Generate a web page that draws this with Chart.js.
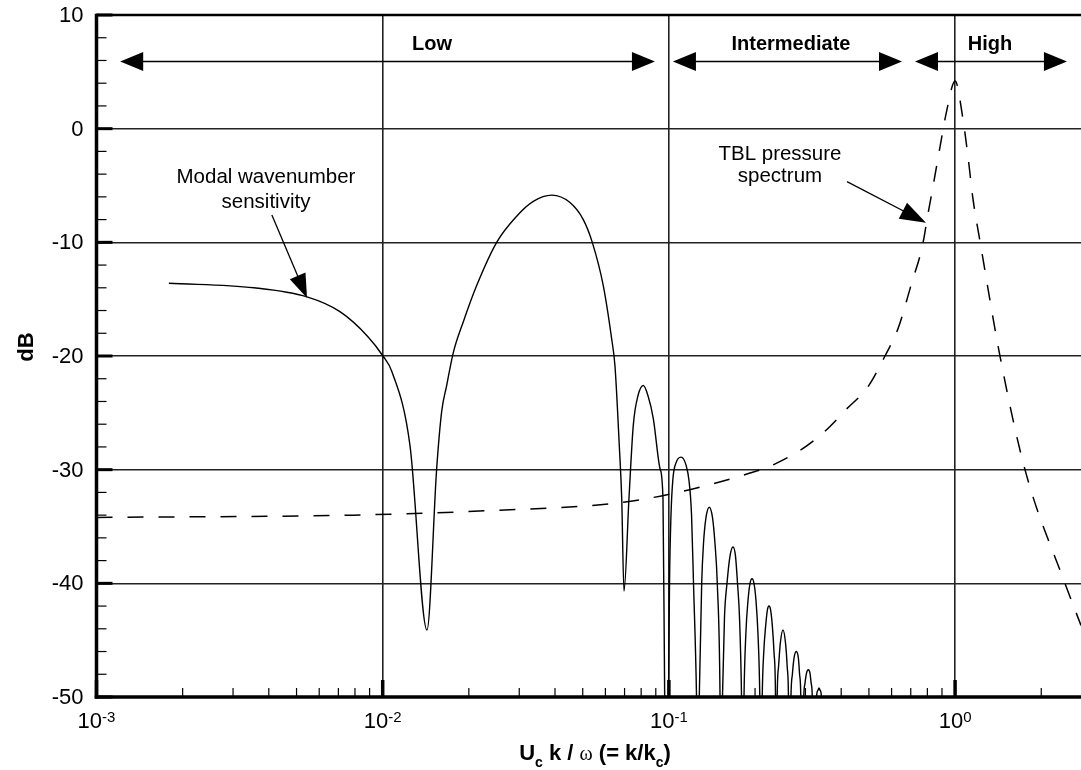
<!DOCTYPE html>
<html><head><meta charset="utf-8">
<script src="https://cdn.jsdelivr.net/npm/chart.js@4/dist/chart.umd.min.js"></script>
<style>html,body{margin:0;padding:0;background:#fff;}#wrap{width:1081px;height:770px;}</style>
</head><body><div id="wrap"><canvas id="c" width="1081" height="770"></canvas></div>
<script>
// ---- data ----
const modalK = [0.00179,0.00355,0.00544,0.00709,0.00888,0.01002,0.01078,0.01246,0.01428,0.01544,0.01607,0.01673,0.01765,0.01912,0.02130,0.02502,0.02939,0.03359,0.03895,0.04512,0.05022,0.05399,0.05898,0.06311,0.06482,0.06710,0.06841,0.06968,0.07254,0.07509,0.07798,0.08139,0.08453,0.08822,0.09309,0.09537,0.09667,0.09808,
 0.09968,0.1005,0.1017,0.1033,0.1059,0.1102,0.1148,0.1176,0.1200,0.1219,0.1249,0.1264,
 0.1277,0.1302,0.1321,0.1348,0.1384,0.1420,0.1449,0.1476,0.1509,0.1518,
 0.1539,0.1564,0.1596,0.1635,0.1675,0.1709,0.1737,0.1765,0.1794,0.1812,
 0.1830,0.1857,0.1890,0.1921,0.1952,0.1983,0.2015,0.2048,0.2078,0.2098,
 0.2119,0.2146,0.2181,0.2211,0.2238,0.2265,0.2296,0.2329,0.2358,0.2373,
 0.2390,0.2417,0.2450,0.2504,0.2557,0.2590,0.2617,0.2638,
 0.2670,0.2701,0.2736,0.2787,0.2835,0.2862,0.2890,0.2913,
 0.2960,0.2989,0.3026,0.3070,0.3112,0.3142,0.3170,0.3200,
 0.3279,0.3319,0.3346,0.3373,0.3414,0.3455];
const modalDb = [-13.6,-14.0,-14.8,-16.1,-18.3,-20.0,-21.4,-27.9,-44.1,-29.9,-24.9,-22.6,-19.7,-17.0,-13.8,-10.0,-7.7,-6.4,-5.85,-6.5,-8.0,-10.0,-13.8,-18.5,-20.9,-27.9,-32.5,-40.7,-32.5,-26.1,-23.5,-22.6,-23.5,-25.5,-29.9,-32.6,-50,-60,
 -50,-40,-34,-30.8,-29.4,-28.9,-29.6,-31,-34,-40,-50,-60,
 -50,-40,-36.5,-34.2,-33.3,-34.2,-36.5,-40,-50,-60,
 -50,-43,-40,-37.6,-36.8,-37.6,-40,-43,-50,-60,
 -50,-44.5,-41.5,-40,-39.6,-40,-41.5,-44.5,-50,-60,
 -50,-46,-43.6,-42.3,-42,-42.3,-43.6,-46,-50,-60,
 -50,-47.3,-45.3,-44.1,-45.3,-47.3,-50,-60,
 -50,-48,-46.6,-46,-46.6,-48,-50,-60,
 -50,-48.8,-47.9,-47.6,-47.9,-48.8,-50,-60,
 -50,-49.4,-49.2,-49.4,-50,-60];
const tblK = [0.001,0.00787,0.0237,0.0675,0.112,0.192,0.2255,0.2872,0.3373,0.3655,0.4124,0.4964,0.569,0.6316,0.7126,0.7539,0.7786,0.7977,0.8371,0.8859,0.937,1.0,1.066,1.110,1.155,1.222,1.435,1.755,2.421,2.754];
const tblDb = [-34.2,-34.0,-33.6,-32.9,-31.9,-30.3,-29.7,-28.3,-27.0,-26.2,-24.8,-22.7,-20.0,-17.6,-13.2,-11.2,-9.6,-8.0,-5.1,-1.6,1.7,4.2,0.8,-2.5,-6.2,-9.9,-20.0,-30.0,-40.0,-43.7];
const yTicks = [-50,-40,-30,-20,-10,0,10];
const yTickLabels = ['-50','-40','-30','-20','-10','0','10'];
const xDecades = [0.001,0.01,0.1,1];
const xDecadeExp = ['-3','-2','-1','0'];
const regionNames = ['Low','Intermediate','High'];
const regionFrom = [0.00121,0.1033,0.7244];
const regionTo = [0.0894,0.6524,2.460];
const regionLabelAt = [0.01487,0.2670,1.324];

// ---- drawing ----
const FONT = '"Liberation Sans", Arial, Helvetica, sans-serif';
const X_MIN = 0.001, X_MAX = 2.754;

function arrowHead(ctx, x0, y0, x1, y1, len, hw) {
  const dx = x1 - x0, dy = y1 - y0, L = Math.hypot(dx, dy);
  const ux = dx / L, uy = dy / L;
  const bx = x1 - ux * len, by = y1 - uy * len;
  ctx.beginPath();
  ctx.moveTo(x1, y1);
  ctx.lineTo(bx - uy * hw, by + ux * hw);
  ctx.lineTo(bx + uy * hw, by - ux * hw);
  ctx.closePath();
  ctx.fill();
}
function line(ctx, x0, y0, x1, y1, w) {
  ctx.lineWidth = w;
  ctx.beginPath(); ctx.moveTo(x0, y0); ctx.lineTo(x1, y1); ctx.stroke();
}

const decor = {
  id: 'decor',
  afterDatasetsDraw(chart) {
    const { ctx, chartArea: a, scales: { x, y } } = chart;
    ctx.save();
    ctx.strokeStyle = '#000'; ctx.fillStyle = '#000'; ctx.lineCap = 'butt';
    // axes frame
    line(ctx, a.left, a.top, a.right, a.top, 2.5);
    line(ctx, a.left, a.top - 1.2, a.left, a.bottom + 1.8, 3.5);
    line(ctx, a.left - 1.8, a.bottom, a.right, a.bottom, 3.5);
    // y ticks
    for (let v = -50; v <= 10; v += 2) {
      const py = y.getPixelForValue(v);
      const major = v % 10 === 0;
      line(ctx, a.left, py, a.left + (major ? 16 : 10), py, major ? 3 : 1.2);
    }
    // y tick labels
    ctx.font = '22px ' + FONT; ctx.textAlign = 'right'; ctx.textBaseline = 'middle';
    yTicks.forEach((v, i) => ctx.fillText(yTickLabels[i], a.left - 13, y.getPixelForValue(v) + 1));
    // x ticks
    xDecades.forEach(d => {
      for (let m = 1; m <= 9; m++) {
        const v = d * m;
        if (v > X_MAX) break;
        const px = x.getPixelForValue(v);
        line(ctx, px, a.bottom, px, a.bottom - (m === 1 ? 17 : 9), m === 1 ? 3.5 : 1.2);
      }
    });
    // x tick labels with exponents
    ctx.textBaseline = 'alphabetic'; ctx.textAlign = 'left';
    xDecades.forEach((d, i) => {
      const px = x.getPixelForValue(d);
      ctx.font = '22px ' + FONT; const w1 = ctx.measureText('10').width;
      ctx.font = '15px ' + FONT; const w2 = ctx.measureText(xDecadeExp[i]).width;
      const sx = px - (w1 + w2) / 2;
      ctx.font = '22px ' + FONT; ctx.fillText('10', sx, 728);
      ctx.font = '15px ' + FONT; ctx.fillText(xDecadeExp[i], sx + w1, 722);
    });
    // x title
    const parts = [
      { t: 'U', f: 'bold 22px ' + FONT, dy: 0 },
      { t: 'c', f: 'bold 14px ' + FONT, dy: 7 },
      { t: ' k / ', f: 'bold 22px ' + FONT, dy: 0 },
      { t: 'ω', f: '20px "Liberation Serif", "DejaVu Serif", serif', dy: 0 },
      { t: ' (= k/k', f: 'bold 22px ' + FONT, dy: 0 },
      { t: 'c', f: 'bold 14px ' + FONT, dy: 7 },
      { t: ')', f: 'bold 22px ' + FONT, dy: 0 }
    ];
    let tot = 0;
    parts.forEach(p => { ctx.font = p.f; p.w = ctx.measureText(p.t).width; tot += p.w; });
    let cx = 595 - tot / 2;
    parts.forEach(p => { ctx.font = p.f; ctx.fillText(p.t, cx, 760 + p.dy); cx += p.w; });
    // y title
    ctx.save();
    ctx.translate(27, 347); ctx.rotate(-Math.PI / 2);
    ctx.font = 'bold 22px ' + FONT; ctx.textAlign = 'center'; ctx.textBaseline = 'middle';
    ctx.fillText('dB', 0, 0);
    ctx.restore();

    // region arrows
    const ay = y.getPixelForValue(5.9);
    ctx.textAlign = 'center'; ctx.textBaseline = 'alphabetic';
    regionNames.forEach((n, i) => {
      const x0 = x.getPixelForValue(regionFrom[i]), x1 = x.getPixelForValue(regionTo[i]);
      line(ctx, x0 + 10, ay, x1 - 10, ay, 1.5);
      arrowHead(ctx, x1, ay, x0, ay, 23, 9.5);
      arrowHead(ctx, x0, ay, x1, ay, 23, 9.5);
      ctx.font = 'bold 20px ' + FONT;
      ctx.fillText(n, x.getPixelForValue(regionLabelAt[i]), y.getPixelForValue(6.92));
    });
    // curve labels
    ctx.font = '20.5px ' + FONT;
    const mx = x.getPixelForValue(0.00391);
    ctx.fillText('Modal wavenumber', mx, y.getPixelForValue(-4.78));
    ctx.fillText('sensitivity', mx, y.getPixelForValue(-6.98));
    const tx = x.getPixelForValue(0.2444);
    ctx.fillText('TBL pressure', tx, y.getPixelForValue(-2.75));
    ctx.fillText('spectrum', tx, y.getPixelForValue(-4.69));
    // pointer arrows
    let p0x = x.getPixelForValue(0.0041), p0y = y.getPixelForValue(-7.59);
    let p1x = x.getPixelForValue(0.00544), p1y = y.getPixelForValue(-14.89);
    line(ctx, p0x, p0y, p1x - (p1x - p0x) * 0.15, p1y - (p1y - p0y) * 0.15, 1.3);
    arrowHead(ctx, p0x, p0y, p1x, p1y, 24, 8.5);
    p0x = x.getPixelForValue(0.4191); p0y = y.getPixelForValue(-4.66);
    p1x = x.getPixelForValue(0.7911); p1y = y.getPixelForValue(-8.27);
    line(ctx, p0x, p0y, p1x - (p1x - p0x) * 0.15, p1y - (p1y - p0y) * 0.15, 1.3);
    arrowHead(ctx, p0x, p0y, p1x, p1y, 26, 9);
    ctx.restore();
  }
};

new Chart(document.getElementById('c').getContext('2d'), {
  type: 'line',
  data: {
    datasets: [
      { label: 'Modal wavenumber sensitivity', data: modalK.map((k, i) => ({ x: k, y: modalDb[i] })),
        borderColor: '#000', borderWidth: 1.4, pointRadius: 0, fill: false, cubicInterpolationMode: 'monotone' },
      { label: 'TBL pressure spectrum', data: tblK.map((k, i) => ({ x: k, y: tblDb[i] })),
        borderColor: '#000', borderWidth: 1.5, borderDash: [16, 15], pointRadius: 0, fill: false, cubicInterpolationMode: 'monotone' }
    ]
  },
  options: {
    responsive: false, animation: false,
    layout: { padding: { top: 15, right: 0, left: 0, bottom: 0 } },
    plugins: { legend: { display: false }, tooltip: { enabled: false } },
    scales: {
      x: {
        type: 'logarithmic', min: X_MIN, max: X_MAX,
        afterBuildTicks: s => { s.ticks = xDecades.map(v => ({ value: v })); },
        afterFit: s => { s.height = 73; },
        ticks: { display: false },
        grid: { color: '#222', lineWidth: 1.6, drawTicks: false },
        border: { display: false }
      },
      y: {
        type: 'linear', min: -50, max: 10,
        afterBuildTicks: s => { s.ticks = yTicks.map(v => ({ value: v })); },
        afterFit: s => { s.width = 96.5; },
        ticks: { display: false },
        grid: { color: '#222', lineWidth: 1.6, drawTicks: false },
        border: { display: false }
      }
    }
  },
  plugins: [decor]
});
</script>
</body></html>
